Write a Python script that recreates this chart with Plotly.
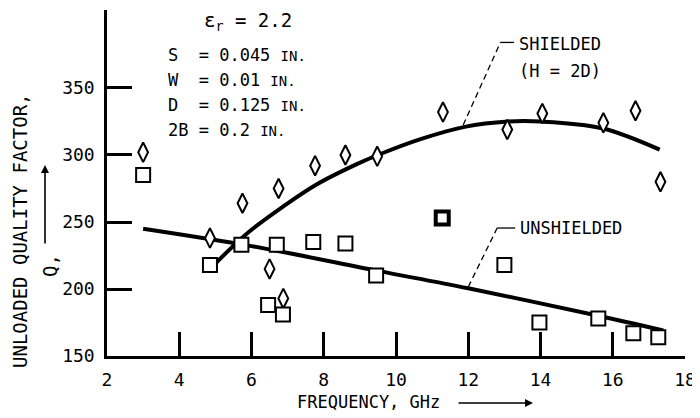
import plotly.graph_objects as go

# ---- data ----
shielded_f = [3.0, 4.85, 5.75, 6.5, 6.75, 6.88, 7.76, 8.6, 9.48, 11.3, 13.08, 14.05, 15.74, 16.63, 17.32]
shielded_q = [302, 238, 264, 215, 275, 193, 292, 300, 299, 332, 319, 331, 324, 333, 280]

unshielded_f = [3.0, 4.85, 5.72, 6.46, 6.7, 6.87, 7.71, 8.6, 9.45, 13.0, 13.97, 15.6, 16.57, 17.26]
unshielded_q = [285, 218, 233, 188, 233, 181, 235, 234, 210, 218, 175, 178, 167, 164]
bold_f = [11.28]
bold_q = [253]

shielded_fit_f = [5.0, 5.9, 6.9, 7.8, 8.9, 9.5, 10.7, 11.9, 13.1, 14.0, 15.7, 17.3]
shielded_fit_q = [219, 242, 262, 278, 293, 300, 312, 321, 325, 325, 320, 304]

unshielded_fit_f = [3.0, 6.0, 9.5, 12.0, 15.6, 17.4]
unshielded_fit_q = [245, 232, 213.5, 200.5, 180, 169]

x_ticks = [2, 4, 6, 8, 10, 12, 14, 16, 18]
y_ticks = [150, 200, 250, 300, 350]

lead_sh_f = [11.86, 12.89, 13.27]
lead_sh_q = [322.4, 384, 384]
lead_un_f = [12.0, 12.8, 13.3]
lead_un_q = [201.5, 245.5, 245.5]

params = ["S  = 0.045", "W  = 0.01", "D  = 0.125", "2B = 0.2"]

FONT = "DejaVu Sans Mono"
OFF = 8  # default page body margin
W, H = 700, 418
PW, PH = 578, 346
L, T = 107 - OFF, 10 - OFF
R, B = W - L - PW, H - T - PH

def px(x):
    return (x - OFF - L) / PW

def py(y):
    return (T + PH - (y - OFF)) / PH

fig = go.Figure()

fig.add_trace(go.Scatter(x=unshielded_fit_f, y=unshielded_fit_q, mode="lines",
                         line=dict(color="black", width=4, shape="spline", smoothing=1.0), hoverinfo="skip"))
fig.add_trace(go.Scatter(x=shielded_fit_f, y=shielded_fit_q, mode="lines",
                         line=dict(color="black", width=4, shape="spline", smoothing=1.0), hoverinfo="skip"))
fig.add_trace(go.Scatter(x=lead_sh_f[:2], y=lead_sh_q[:2], mode="lines",
                         line=dict(color="black", width=1.3, dash="6px,4px"), hoverinfo="skip"))
fig.add_trace(go.Scatter(x=lead_sh_f[1:], y=lead_sh_q[1:], mode="lines",
                         line=dict(color="black", width=1.3), hoverinfo="skip"))
fig.add_trace(go.Scatter(x=lead_un_f[:2], y=lead_un_q[:2], mode="lines",
                         line=dict(color="black", width=1.3, dash="6px,4px"), hoverinfo="skip"))
fig.add_trace(go.Scatter(x=lead_un_f[1:], y=lead_un_q[1:], mode="lines",
                         line=dict(color="black", width=1.3), hoverinfo="skip"))

fig.add_trace(go.Scatter(x=shielded_f, y=shielded_q, mode="markers",
                         marker=dict(symbol="diamond-tall", size=14, color="white",
                                     line=dict(color="black", width=2))))
fig.add_trace(go.Scatter(x=unshielded_f, y=unshielded_q, mode="markers",
                         marker=dict(symbol="square", size=14, color="white",
                                     line=dict(color="black", width=2))))
fig.add_trace(go.Scatter(x=bold_f, y=bold_q, mode="markers",
                         marker=dict(symbol="square", size=13, color="white",
                                     line=dict(color="black", width=4))))

ann = []
ann.append(dict(x=lead_sh_f[2] + 0.08, y=lead_sh_q[2] - 1, xref="x", yref="y", text="SHIELDED",
                xanchor="left", yanchor="middle", showarrow=False, font=dict(size=17)))
ann.append(dict(x=lead_sh_f[2] + 0.08, y=lead_sh_q[2] - 21, xref="x", yref="y", text="(H = 2D)",
                xanchor="left", yanchor="middle", showarrow=False, font=dict(size=17)))
ann.append(dict(x=lead_un_f[2] + 0.08, y=lead_un_q[2], xref="x", yref="y", text="UNSHIELDED",
                xanchor="left", yanchor="middle", showarrow=False, font=dict(size=17)))

ann.append(dict(x=px(202), y=py(22), xref="paper", yref="paper",
                text="ε<sub>r</sub> = 2.2", xanchor="left", yanchor="middle",
                showarrow=False, font=dict(size=19)))
for i, p in enumerate(params):
    ann.append(dict(x=px(166), y=py(55 + 25 * i), xref="paper", yref="paper",
                    text=p + " <span style='font-size:14px'>IN.</span>",
                    xanchor="left", yanchor="middle", showarrow=False, font=dict(size=17)))

ann.append(dict(x=px(20), y=py(231), xref="paper", yref="paper",
                text="UNLOADED QUALITY FACTOR,", textangle=-90, showarrow=False,
                xanchor="center", yanchor="middle", font=dict(size=19)))
ann.append(dict(x=px(50), y=py(266), xref="paper", yref="paper",
                text="Q,", textangle=-90, showarrow=False,
                xanchor="center", yanchor="middle", font=dict(size=19)))
ann.append(dict(x=px(45), y=py(165), xref="paper", yref="paper", text="",
                showarrow=True, ax=0, ay=80, arrowhead=2, arrowsize=1, arrowwidth=1.6,
                arrowcolor="black"))
ann.append(dict(x=px(368), y=py(402), xref="paper", yref="paper",
                text="FREQUENCY, GHz", showarrow=False,
                xanchor="center", yanchor="middle", font=dict(size=17)))
ann.append(dict(x=px(533), y=py(403), xref="paper", yref="paper", text="",
                showarrow=True, ax=-76, ay=0, arrowhead=2, arrowsize=1, arrowwidth=1.6,
                arrowcolor="black"))

fig.update_layout(
    width=W, height=H,
    margin=dict(l=L, r=R, t=T, b=B, pad=0, autoexpand=False),
    paper_bgcolor="white", plot_bgcolor="white",
    showlegend=False,
    font=dict(family=FONT, color="black", size=17),
    annotations=ann,
)
fig.update_xaxes(range=[2, 18], tickvals=x_ticks, ticktext=[str(v) for v in x_ticks],
                 showgrid=False, zeroline=False, showline=True, linecolor="black", linewidth=2.5,
                 ticks="inside", ticklen=24, tickwidth=2.5, tickcolor="black", automargin=False,
                 tickfont=dict(size=18, family=FONT), ticklabelstandoff=6)
fig.update_yaxes(range=[150, 408.2], tickvals=y_ticks, ticktext=[str(v) for v in y_ticks],
                 showgrid=False, zeroline=False, showline=True, linecolor="black", linewidth=2.5,
                 ticks="inside", ticklen=25, tickwidth=2.5, tickcolor="black", automargin=False,
                 tickfont=dict(size=18, family=FONT), ticklabelstandoff=6)

fig.write_html("out.html")
